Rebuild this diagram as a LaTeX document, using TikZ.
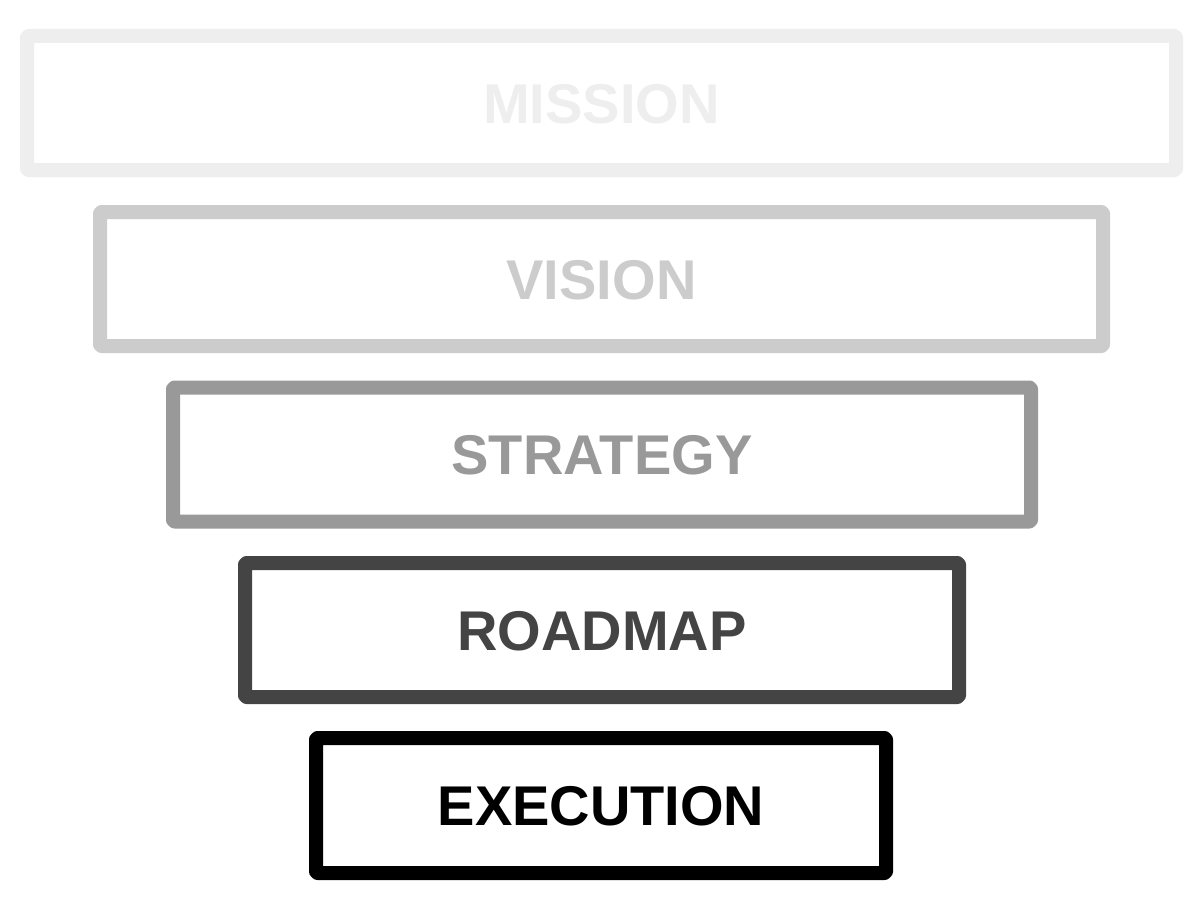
\documentclass[tikz,border=0pt]{standalone}
\usepackage{fontspec}
\setmainfont{Liberation Sans}
\begin{document}
\begin{tikzpicture}[x=1pt,y=-1pt,
  tier/.style={draw=#1, text=#1, line width=14pt, line join=round, rounded corners=1.5pt,
    inner sep=0pt, minimum height=134pt, text height=40pt, text depth=0pt,
    font=\fontsize{56}{60}\selectfont\bfseries}]
\useasboundingbox[fill=white] (0,0) rectangle (1200,907);
\definecolor{cmission}{HTML}{EEEEEE}
\definecolor{cvision}{HTML}{CCCCCC}
\definecolor{cstrategy}{HTML}{999999}
\definecolor{croadmap}{HTML}{444444}
\definecolor{cexec}{HTML}{000000}
\node[tier=cmission, minimum width=1149pt] (mission) at (601.5,103) {MISSION};
\node[tier=cvision, minimum width=1003pt] (vision) at (601.5,279) {VISION};
\node[tier=cstrategy, minimum width=858pt] (strategy) at (602,454.5) {STRATEGY};
\node[tier=croadmap, minimum width=714pt] (roadmap) at (602,630) {ROADMAP};
\node[tier=cexec, minimum width=570pt, minimum height=135pt] (execution) at (601,805.5) {EXECUTION};
\end{tikzpicture}
\end{document}
